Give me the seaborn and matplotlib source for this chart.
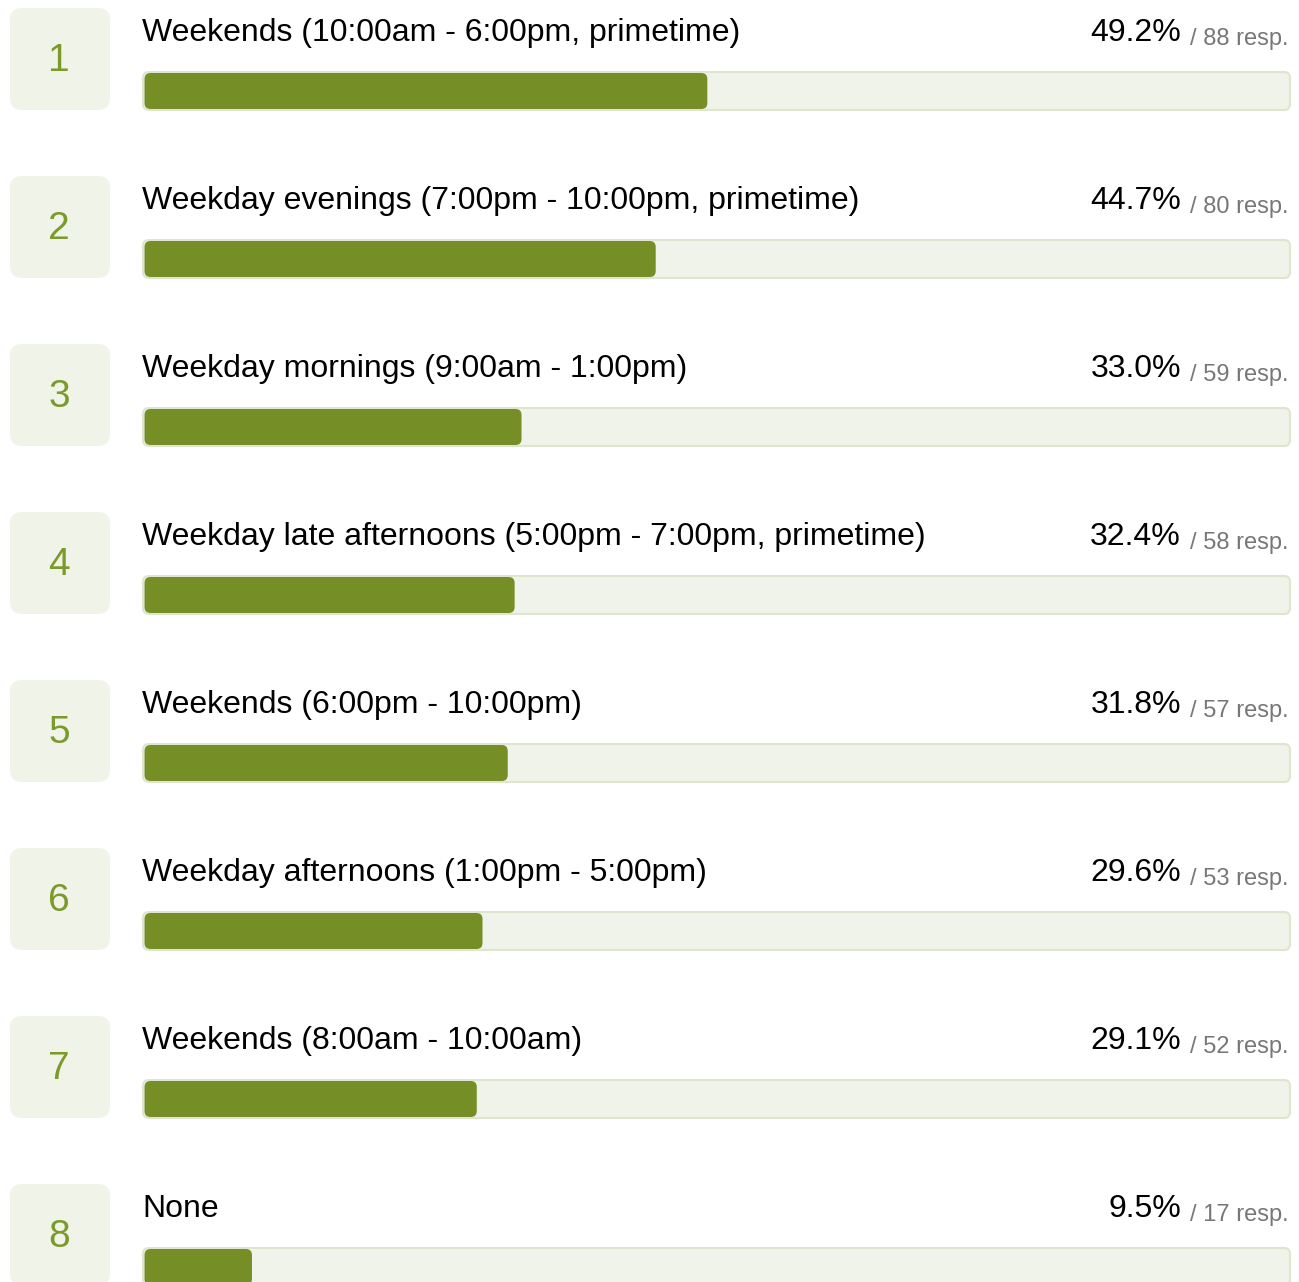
import matplotlib
matplotlib.use("Agg")
import matplotlib.pyplot as plt
from matplotlib.patches import FancyBboxPatch
import seaborn as sns
import pandas as pd

labels = [
    "Weekends (10:00am - 6:00pm, primetime)",
    "Weekday evenings (7:00pm - 10:00pm, primetime)",
    "Weekday mornings (9:00am - 1:00pm)",
    "Weekday late afternoons (5:00pm - 7:00pm, primetime)",
    "Weekends (6:00pm - 10:00pm)",
    "Weekday afternoons (1:00pm - 5:00pm)",
    "Weekends (8:00am - 10:00am)",
    "None",
]
percents = [49.2, 44.7, 33.0, 32.4, 31.8, 29.6, 29.1, 9.5]
responses = [88, 80, 59, 58, 57, 53, 52, 17]
ranks = [1, 2, 3, 4, 5, 6, 7, 8]

GREEN = "#768e26"
NUM_GREEN = "#7a9a2a"
TRACK = "#f0f3e9"
TRACK_EDGE = "#dfe5cf"
BOX = "#f0f3e8"

W, H = 1299, 1282
DPI = 100
TRACK_L, TRACK_R = 143, 1290
ROW0_C = 91
STEP = 168

sns.set_theme(style="white")
plt.rcParams["font.family"] = ["Liberation Sans", "DejaVu Sans"]

fig = plt.figure(figsize=(W / DPI, H / DPI), dpi=DPI)
ax = fig.add_axes([0, 0, 1, 1])

df = pd.DataFrame({"label": labels, "pct": percents})
bar_h_px = 36
sns.barplot(data=df, x="pct", y="label", orient="h", color=GREEN,
            width=bar_h_px / STEP, ax=ax, saturation=1)

ppx = (TRACK_R - TRACK_L) / 100.0  # pixels per percent unit
ax.set_xlim(-TRACK_L / ppx, (W - TRACK_L) / ppx)
ax.set_ylim((H - ROW0_C) / STEP, -ROW0_C / STEP)
ax.axis("off")

xu = 1.0 / ppx       # x units per pixel
yu = 1.0 / STEP      # y units per pixel
aspect = yu / xu

def px_x(p):
    return (p - TRACK_L) * xu

def rel_y(i, p):
    return i + (p - ROW0_C) * yu

rects = list(ax.patches)
for r in rects:
    r.remove()

for i, r in enumerate(rects):
    ty0 = rel_y(i, 72)
    track = FancyBboxPatch((0, ty0), 100, 38 * yu,
                           boxstyle=f"round,pad=0,rounding_size={6 * xu}",
                           mutation_aspect=aspect, facecolor=TRACK,
                           edgecolor=TRACK_EDGE, linewidth=1.5, zorder=1)
    ax.add_patch(track)
    x0 = r.get_x() + 1.5 * xu
    w = r.get_width() - 1.5 * xu
    y0 = r.get_y()
    h = r.get_height()
    bar = FancyBboxPatch((x0, y0), w, h,
                         boxstyle=f"round,pad=0,rounding_size={6 * xu}",
                         mutation_aspect=aspect, facecolor=GREEN,
                         edgecolor="none", zorder=2)
    ax.add_patch(bar)

for i in range(len(labels)):
    bx0, bx1 = px_x(10), px_x(110)
    by0, by1 = rel_y(i, 8), rel_y(i, 110)
    box = FancyBboxPatch((bx0, by0), bx1 - bx0, by1 - by0,
                         boxstyle=f"round,pad=0,rounding_size={12 * xu}",
                         mutation_aspect=aspect, facecolor=BOX,
                         edgecolor="none", zorder=1)
    ax.add_patch(box)
    ax.text(px_x(59), rel_y(i, 71), str(ranks[i]), ha="center", va="baseline",
            fontsize=28, color=NUM_GREEN, zorder=3)
    ax.text(px_x(142), rel_y(i, 41), labels[i], ha="left", va="baseline",
            fontsize=23, color="#000000", zorder=3)
    ax.text(px_x(1181), rel_y(i, 41), f"{percents[i]:.1f}%", ha="right",
            va="baseline", fontsize=23, color="#000000", zorder=3)
    ax.text(px_x(1289), rel_y(i, 45), f"/ {responses[i]} resp.", ha="right",
            va="baseline", fontsize=17, color="#777777", zorder=3)

fig.savefig("out.png", dpi=DPI, facecolor="white")
